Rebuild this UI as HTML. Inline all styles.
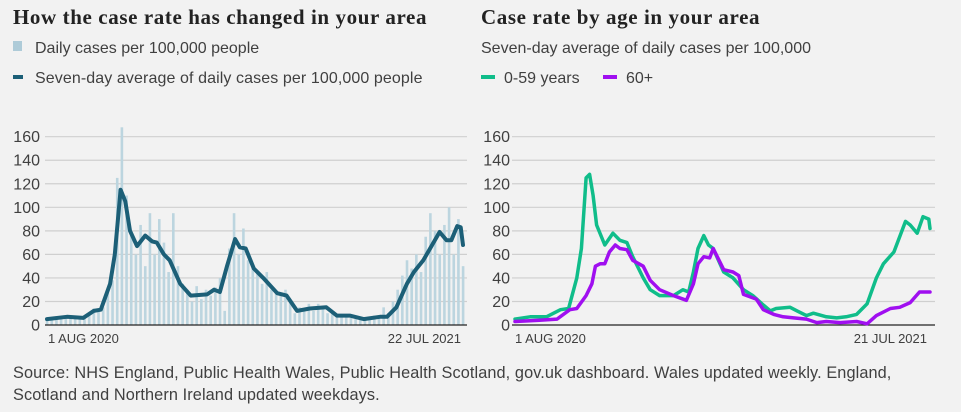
<!DOCTYPE html>
<html><head><meta charset="utf-8"><style>
body{margin:0;background:#f2f2f2;width:961px;height:412px;overflow:hidden;font-family:"Liberation Sans",sans-serif}
svg{position:absolute;left:0;top:0}
</style></head><body>
<svg width="961" height="412">
<text x="13" y="24" font-family="Liberation Serif" font-weight="bold" font-size="21" letter-spacing="0.6" fill="#222">How the case rate has changed in your area</text>
<rect x="13" y="41" width="9" height="10" fill="#aecbd8"/>
<text x="35" y="53" font-size="16" fill="#404040">Daily cases per 100,000 people</text>
<rect x="13" y="75" width="10" height="4" fill="#1c5f77"/>
<text x="35" y="83" font-size="16" letter-spacing="0.1" fill="#404040">Seven-day average of daily cases per 100,000 people</text>
<text x="481" y="24" font-family="Liberation Serif" font-weight="bold" font-size="21" letter-spacing="0.6" fill="#222">Case rate by age in your area</text>
<text x="481" y="53" font-size="16" fill="#404040">Seven-day average of daily cases per 100,000</text>
<rect x="481" y="75" width="14" height="4" fill="#10bd8a"/>
<text x="504" y="83" font-size="16" fill="#404040">0-59 years</text>
<rect x="603" y="75" width="14" height="4" fill="#a00ff0"/>
<text x="626" y="83" font-size="16" fill="#404040">60+</text>
<g id="left"></g>
<g id="right"></g>
<text x="13" y="378" font-size="16.3" letter-spacing="0.1" fill="#404040">Source: NHS England, Public Health Wales, Public Health Scotland, gov.uk dashboard. Wales updated weekly. England,</text>
<text x="13" y="400" font-size="16.3" letter-spacing="0.1" fill="#404040">Scotland and Northern Ireland updated weekdays.</text>
</svg>
<script>
const yTicks=[0,20,40,60,80,100,120,140,160];
const barDays=[];for(let d=0;d<=356;d+=4)barDays.push(d);
const barValues=[5,6,7,6,8,7,6,7,6,9,14,12,15,30,38,125,168,110,80,60,85,50,95,60,90,70,45,95,50,35,30,20,33,22,30,25,32,40,12,65,95,60,82,55,50,45,35,45,30,28,25,30,22,10,15,12,18,12,18,15,10,12,8,9,7,6,5,6,4,5,8,6,15,10,20,30,42,55,48,60,45,75,95,80,60,85,100,60,90,50];
const avgDays=[0,17,31,40,46,54,58,63,67,71,77,84,90,94,100,105,114,123,137,143,148,154,161,165,170,177,185,197,205,214,225,239,248,259,271,285,291,299,308,314,322,336,342,346,351,354,356];
const avgValues=[5,7,6,12,13,35,60,115,105,80,67,76,71,70,60,55,35,25,26,30,28,50,73,66,65,48,40,27,25,12,14,15,8,8,5,7,7,15,35,45,55,79,72,72,84,83,68];
const youngDays=[0,13,27,39,46,53,57,61,64,67,70,77,84,90,96,101,110,116,124,136,144,149,153,157,162,166,170,179,187,196,204,213,219,224,236,242,250,256,267,276,284,293,302,310,316,325,335,339,345,350,355,356];
const youngValues=[5,7,7,13,14,40,65,125,128,110,85,68,78,72,70,58,40,30,25,25,30,28,45,65,76,68,65,45,40,30,25,17,12,14,15,12,8,10,7,6,7,9,18,40,52,62,88,85,78,92,90,82];
const oldDays=[0,21,36,47,53,61,66,69,73,77,81,86,90,96,101,110,116,124,136,147,153,157,162,167,170,179,187,192,196,207,213,222,230,239,250,259,267,279,293,302,310,322,330,339,347,356];
const oldValues=[3,4,5,13,14,25,35,50,52,52,62,68,65,64,55,50,38,30,25,21,35,52,58,57,65,47,45,42,26,22,13,9,7,6,5,2,3,2,3,1,8,14,15,19,28,28];
const NS="http://www.w3.org/2000/svg";
function mk(p,t,a){const e=document.createElementNS(NS,t);for(const k in a)e.setAttribute(k,a[k]);p.appendChild(e);return e;}
function axes(g,x0,x1,labelX,d1,d2,d2x){
  const y=v=>325-v*(188.3/160);
  yTicks.forEach(t=>{
    if(t>0){const l=mk(g,'line',{x1:x0,x2:x1,y1:y(t),y2:y(t),stroke:'#cfcfcf','stroke-width':1.2});
    
    }
    const tx=mk(g,'text',{x:labelX,y:y(t)+5.5,'text-anchor':'end','font-size':16,fill:'#404040'});
    tx.textContent=t;
    
    
  });
  const a=mk(g,'text',{x:x0+3,y:343,'font-size':13,fill:'#404040'});a.textContent=d1;
  
  
  const b=mk(g,'text',{x:d2x,y:343,'font-size':13,fill:'#404040','text-anchor':'end'});b.textContent=d2;
  
  
  return y;
}
function line(g,xs,ys,days,vals,col,w,name){
  const d=days.map((dd,i)=>(i?'L':'M')+xs(dd).toFixed(1)+','+ys(vals[i]).toFixed(1)).join('');
  const p=mk(g,'path',{d:d,fill:'none',stroke:col,'stroke-width':w,'stroke-linejoin':'round','stroke-linecap':'round'});
  
  
}
const L=document.getElementById('left');
const ly=axes(L,45,467,40,'1 AUG 2020','22 JUL 2021',461);
const lx=d=>47+d*(416/356);
barValues.forEach((v,i)=>{
  const r=mk(L,'rect',{x:lx(barDays[i])-1.2,y:ly(v),width:2.6,height:325-ly(v),fill:'#bcd5df'});
  
  
});
mk(L,'line',{x1:45,x2:467,y1:325,y2:325,stroke:'#222','stroke-width':1.2});
line(L,lx,ly,avgDays,avgValues,'#1c5f77',4,'seven-day-average-line');
const R=document.getElementById('right');
const ry=axes(R,512,935,510,'1 AUG 2020','21 JUL 2021',927);
const rx=d=>515+d*(415/356);
mk(R,'line',{x1:512,x2:935,y1:325,y2:325,stroke:'#222','stroke-width':1.2});
line(R,rx,ry,youngDays,youngValues,'#10bd8a',3.5,'age-0-59-line');
line(R,rx,ry,oldDays,oldValues,'#a00ff0',3.5,'age-60-plus-line');
</script>
</body></html>
